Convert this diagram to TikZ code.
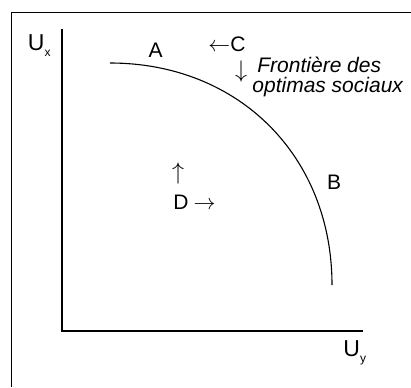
\documentclass[tikz,border=0pt]{standalone}
\usepackage{fontspec}
\setmainfont{Liberation Sans}
\usetikzlibrary{positioning}
\newcommand{\lowsub}[1]{\raisebox{-3pt}{\fontsize{6}{7}\selectfont #1}}
\begin{document}
\begin{tikzpicture}[x=0.5pt, y=-0.5pt, font=\fontsize{10.5}{12}\selectfont,
  frame/.style={line width=0.5pt},
  axis/.style={line width=0.65pt},
  frontier/.style={line width=0.55pt},
  lbl/.style={inner sep=0pt, anchor=base},
  axlbl/.style={inner sep=0pt, anchor=base west, font=\fontsize{11.5}{13}\selectfont},
  varrow/.style={inner sep=0pt, anchor=center, font=\fontsize{11.5}{13}\selectfont},
  note/.style={inner sep=0pt, anchor=base west, font=\fontsize{10.5}{12}\selectfont\itshape}]
\useasboundingbox (0,0) rectangle (411,387);
% cadre
\draw[frame] (11,387) -- (11,12.5) -- (411,12.5);
% axes
\coordinate (top)    at (62,29);
\coordinate (origin) at (62,331);
\coordinate (right)  at (363,331);
\draw[axis] (top) -- (origin) -- (right);
% frontiere
\coordinate (fa) at (110,63);
\coordinate (fb) at (332,285);
\draw[frontier] (fa) .. controls (238.8,63) and (332,156.2) .. (fb);
% textes
\node[axlbl] (ux) at (27.5,50)  {U\lowsub{x}};
\node[axlbl] (uy) at (343,356)  {U\lowsub{y}};
\node[lbl] (pa) at (155.5,57)   {A};
\node[lbl] (pb) at (334,189)    {B};
\node[lbl] (pc) at (227,51.5)   {$\leftarrow$C};
\node[varrow] (cdown) at (241,71) {$\downarrow$};
\node[varrow] (dup) at (178,173)  {$\uparrow$};
\node[lbl] (pd) at (194.5,209)  {D\hspace{2.5pt}$\rightarrow$};
\node[note] (fr1) at (257,72)   {Frontière des};
\node[note] (fr2) at (252,92)   {optimas sociaux};
\end{tikzpicture}
\end{document}
